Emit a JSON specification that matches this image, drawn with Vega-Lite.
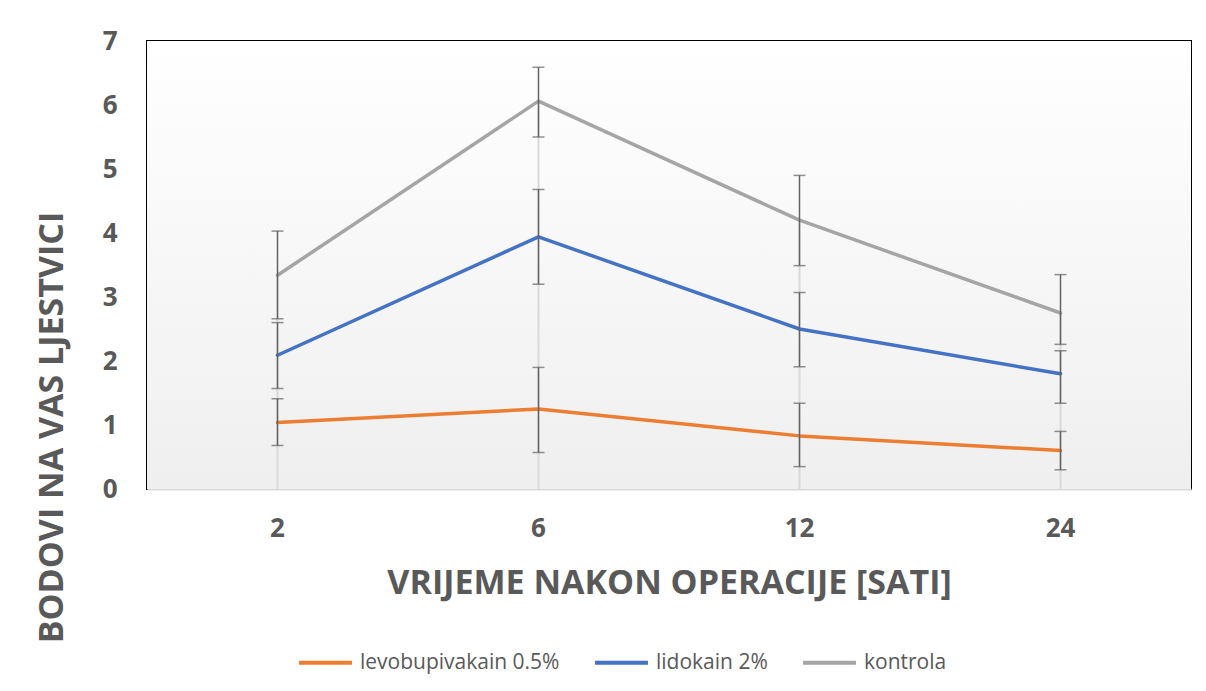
{
  "$schema": "https://vega.github.io/schema/vega-lite/v6.json",
  "autosize": "none",
  "width": 1044,
  "height": 448,
  "padding": {"left": 147, "top": 41, "right": 15, "bottom": 202},
  "background": "#ffffff",
  "config": {
    "view": {"stroke": "#000000", "strokeWidth": 2},
    "font": "Open Sans"
  },
  "datasets": {
    "stats": [
      {"series": "levobupivakain 0.5%", "time": "2", "mean": 1.04, "lo": 0.68, "hi": 1.41},
      {"series": "levobupivakain 0.5%", "time": "6", "mean": 1.25, "lo": 0.57, "hi": 1.9},
      {"series": "levobupivakain 0.5%", "time": "12", "mean": 0.83, "lo": 0.35, "hi": 1.34},
      {"series": "levobupivakain 0.5%", "time": "24", "mean": 0.6, "lo": 0.3, "hi": 0.9},
      {"series": "lidokain 2%", "time": "2", "mean": 2.09, "lo": 1.57, "hi": 2.6},
      {"series": "lidokain 2%", "time": "6", "mean": 3.94, "lo": 3.2, "hi": 4.68},
      {"series": "lidokain 2%", "time": "12", "mean": 2.5, "lo": 1.91, "hi": 3.07},
      {"series": "lidokain 2%", "time": "24", "mean": 1.8, "lo": 1.34, "hi": 2.16},
      {"series": "kontrola", "time": "2", "mean": 3.34, "lo": 2.66, "hi": 4.03},
      {"series": "kontrola", "time": "6", "mean": 6.06, "lo": 5.5, "hi": 6.59},
      {"series": "kontrola", "time": "12", "mean": 4.2, "lo": 3.49, "hi": 4.9},
      {"series": "kontrola", "time": "24", "mean": 2.75, "lo": 2.26, "hi": 3.35}
    ]
  },
  "data": {"name": "stats"},
  "layer": [
    {
      "data": {"values": [{"top": 7, "bottom": 0}]},
      "mark": {
        "type": "rect",
        "color": {
          "gradient": "linear",
          "x1": 0, "y1": 0, "x2": 0, "y2": 1,
          "stops": [
            {"offset": 0, "color": "#ffffff"},
            {"offset": 1, "color": "#efefef"}
          ]
        }
      },
      "encoding": {
        "y": {"field": "top", "type": "quantitative", "scale": {"domain": [0, 7]}},
        "y2": {"field": "bottom"}
      }
    },
    {
      "transform": [{"filter": "datum.series === 'kontrola'"}],
      "mark": {"type": "rule", "color": "#d9d9d9", "strokeWidth": 2},
      "encoding": {
        "x": {"field": "time", "type": "ordinal"},
        "y": {"field": "mean", "type": "quantitative"},
        "y2": {"datum": 0}
      }
    },
    {
      "mark": {"type": "line", "strokeWidth": 3.5, "strokeCap": "round", "strokeJoin": "round"},
      "encoding": {
        "x": {
          "field": "time", "type": "ordinal",
          "scale": {"domain": ["2", "6", "12", "24"], "paddingInner": 0, "paddingOuter": 0},
          "axis": {
            "title": "VRIJEME NAKON OPERACIJE [SATI]",
            "titleFont": "Open Sans", "titleFontSize": 34, "titleFontWeight": "bold", "titleColor": "#595959",
            "titleY": 94, "titleBaseline": "middle",
            "labelFont": "Open Sans", "labelFontSize": 26, "labelFontWeight": "bold", "labelColor": "#595959",
            "labelAngle": 0, "labelAlign": "center", "labelPadding": 39,
            "ticks": false, "grid": false,
            "domainColor": "#d9d9d9", "domainWidth": 2
          }
        },
        "y": {
          "field": "mean", "type": "quantitative",
          "scale": {"domain": [0, 7], "nice": false},
          "axis": {
            "title": "BODOVI NA VAS LJESTVICI",
            "titleFont": "Open Sans", "titleFontSize": 34, "titleFontWeight": "bold", "titleColor": "#595959",
            "titleAngle": -90, "titleX": -95, "titleY": 386, "titleAlign": "center", "titleBaseline": "middle",
            "labelFont": "Open Sans", "labelFontSize": 26, "labelFontWeight": "bold", "labelColor": "#595959",
            "labelPadding": 30, "values": [0, 1, 2, 3, 4, 5, 6, 7], "format": "d",
            "ticks": false, "grid": false, "domain": false
          }
        },
        "color": {
          "field": "series", "type": "nominal",
          "scale": {
            "domain": ["levobupivakain 0.5%", "lidokain 2%", "kontrola"],
            "range": ["#ED7D31", "#4472C4", "#A5A5A5"]
          },
          "legend": {
            "title": null,
            "orient": "none", "legendX": 150, "legendY": 593,
            "direction": "horizontal",
            "symbolType": "stroke", "symbolSize": 2800, "symbolStrokeWidth": 4,
            "labelFont": "Open Sans", "labelFontSize": 21, "labelColor": "#595959", "labelLimit": 0,
            "labelOffset": 6, "columnPadding": 27
          }
        }
      }
    },
    {
      "mark": {"type": "rule", "color": "#636363", "strokeWidth": 1.5},
      "encoding": {
        "x": {"field": "time", "type": "ordinal"},
        "y": {"field": "lo", "type": "quantitative"},
        "y2": {"field": "hi"}
      }
    },
    {
      "mark": {"type": "tick", "color": "#636363", "thickness": 1.5, "size": 12, "orient": "horizontal"},
      "encoding": {
        "x": {"field": "time", "type": "ordinal"},
        "y": {"field": "lo", "type": "quantitative"}
      }
    },
    {
      "mark": {"type": "tick", "color": "#636363", "thickness": 1.5, "size": 12, "orient": "horizontal"},
      "encoding": {
        "x": {"field": "time", "type": "ordinal"},
        "y": {"field": "hi", "type": "quantitative"}
      }
    }
  ]
}
